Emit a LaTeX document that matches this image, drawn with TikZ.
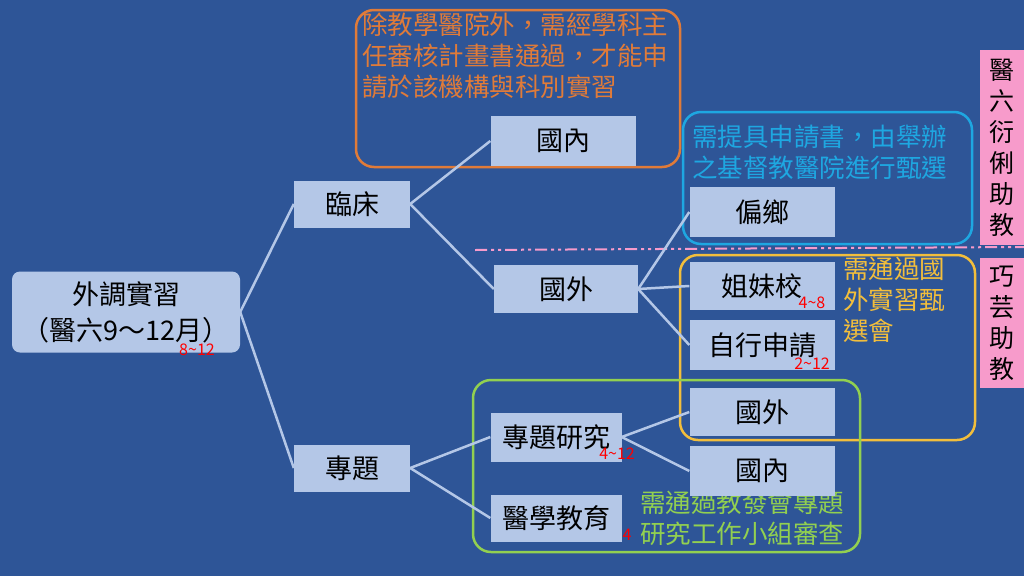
\documentclass[tikz,border=0pt]{standalone}
\usepackage{fontspec}
\setmainfont{Noto Sans CJK TC}
\begin{document}
\begin{tikzpicture}[x=1pt,y=-1pt,
  bx/.style={fill=boxc,inner sep=0pt,font=\fontsize{27}{30}\selectfont},
  ln/.style={draw=boxc,line width=2.5pt},
  fr/.style={rounded corners=18pt,line width=2.5pt},
  nt/.style={anchor=north west,align=left,inner sep=0pt,font=\fontsize{25.5}{31}\selectfont},
  rd/.style={text=red,font=\fontsize{16}{17}\selectfont,inner sep=0pt}]
\definecolor{bg}{HTML}{2E5597}
\definecolor{boxc}{HTML}{B4C7E7}
\definecolor{orc}{HTML}{E07B39}
\definecolor{cyc}{HTML}{1EA7E1}
\definecolor{ylc}{HTML}{F2BE3C}
\definecolor{grc}{HTML}{92D050}
\definecolor{pkc}{HTML}{F79BCB}
\fill[bg] (0,0) rectangle (1024,576);
\useasboundingbox (0,0) rectangle (1024,576);
% frames
\draw[fr,orc] (356,10) rectangle (680,167);
\node[nt,text=orc] (t1) at (362,13) {除教學醫院外，需經學科主\\任審核計畫書通過，才能申\\請於該機構與科別實習};
\draw[fr,cyc] (683,112) rectangle (972,244);
\node[nt,text=cyc] (t2) at (692,125) {需提具申請書，由舉辦\\之基督教醫院進行甄選};
\draw[draw=pkc,line width=2pt,dash pattern=on 12pt off 4pt on 3pt off 4pt on 3pt off 4pt] (475,250) -- (1024,247);
\draw[fr,ylc] (680,255) rectangle (975,440);
\node[nt,text=ylc] (t3) at (843,257) {需通過國\\外實習甄\\選會};
\draw[fr,grc] (473,380) rectangle (860,552);
\node[nt,text=grc] (t4) at (640,491) {需通過教發會專題\\研究工作小組審查};
% pink
\node[fill=pkc,minimum width=44pt,minimum height=195pt,inner sep=0pt,anchor=north west,align=center,font=\fontsize{25}{31}\selectfont] (p1) at (980,50) {醫\\六\\衍\\俐\\助\\教};
\node[fill=pkc,minimum width=44pt,minimum height=130pt,inner sep=0pt,anchor=north west,align=center,font=\fontsize{25}{31}\selectfont] (p2) at (980,258) {巧\\芸\\助\\教};
% boxes
\node[bx,rounded corners=8pt,minimum width=228pt,minimum height=81pt,align=center,font=\fontsize{27}{36}\selectfont] (root) at (126,312) {外調實習\\（醫六9～12月）};
\node[bx,minimum width=116pt,minimum height=47pt] (lc) at (352,204) {臨床};
\node[bx,minimum width=116pt,minimum height=47pt] (zt) at (352,468) {專題};
\node[bx,minimum width=145pt,minimum height=50pt] (gn1) at (563,141) {國內};
\node[bx,minimum width=144pt,minimum height=48pt] (gw1) at (566,289) {國外};
\node[bx,minimum width=145pt,minimum height=50pt] (px) at (762,212) {偏鄉};
\node[bx,minimum width=145pt,minimum height=48pt] (jm) at (762,286) {姐妹校};
\node[bx,minimum width=145pt,minimum height=50pt] (zx) at (762,345) {自行申請};
\node[bx,minimum width=145pt,minimum height=48pt] (gw2) at (762,412) {國外};
\node[bx,minimum width=145pt,minimum height=50pt] (gn2) at (762,471) {國內};
\node[bx,minimum width=131pt,minimum height=49pt] (yj) at (556,437) {專題研究};
\node[bx,minimum width=131pt,minimum height=47pt] (yx) at (556,518) {醫學教育};
% red
\node[rd] (r1) at (197,350) {8\~{}12};
\node[rd] (r2) at (812,303) {4\~{}8};
\node[rd] (r3) at (812,364) {2\~{}12};
\node[rd] (r4) at (617,454) {4\~{}12};
\node[rd] (r5) at (627,535) {4};
% lines
\draw[ln] (root.east) -- (lc.west);
\draw[ln] (root.east) -- (zt.west);
\draw[ln] (lc.east) -- (gn1.west);
\draw[ln] (lc.east) -- (gw1.west);
\draw[ln] (gw1.east) -- (px.west);
\draw[ln] (gw1.east) -- (jm.west);
\draw[ln] (gw1.east) -- (zx.west);
\draw[ln] (zt.east) -- (yj.west);
\draw[ln] (zt.east) -- (yx.west);
\draw[ln] (yj.east) -- (gw2.west);
\draw[ln] (yj.east) -- (gn2.west);
\end{tikzpicture}
\end{document}
